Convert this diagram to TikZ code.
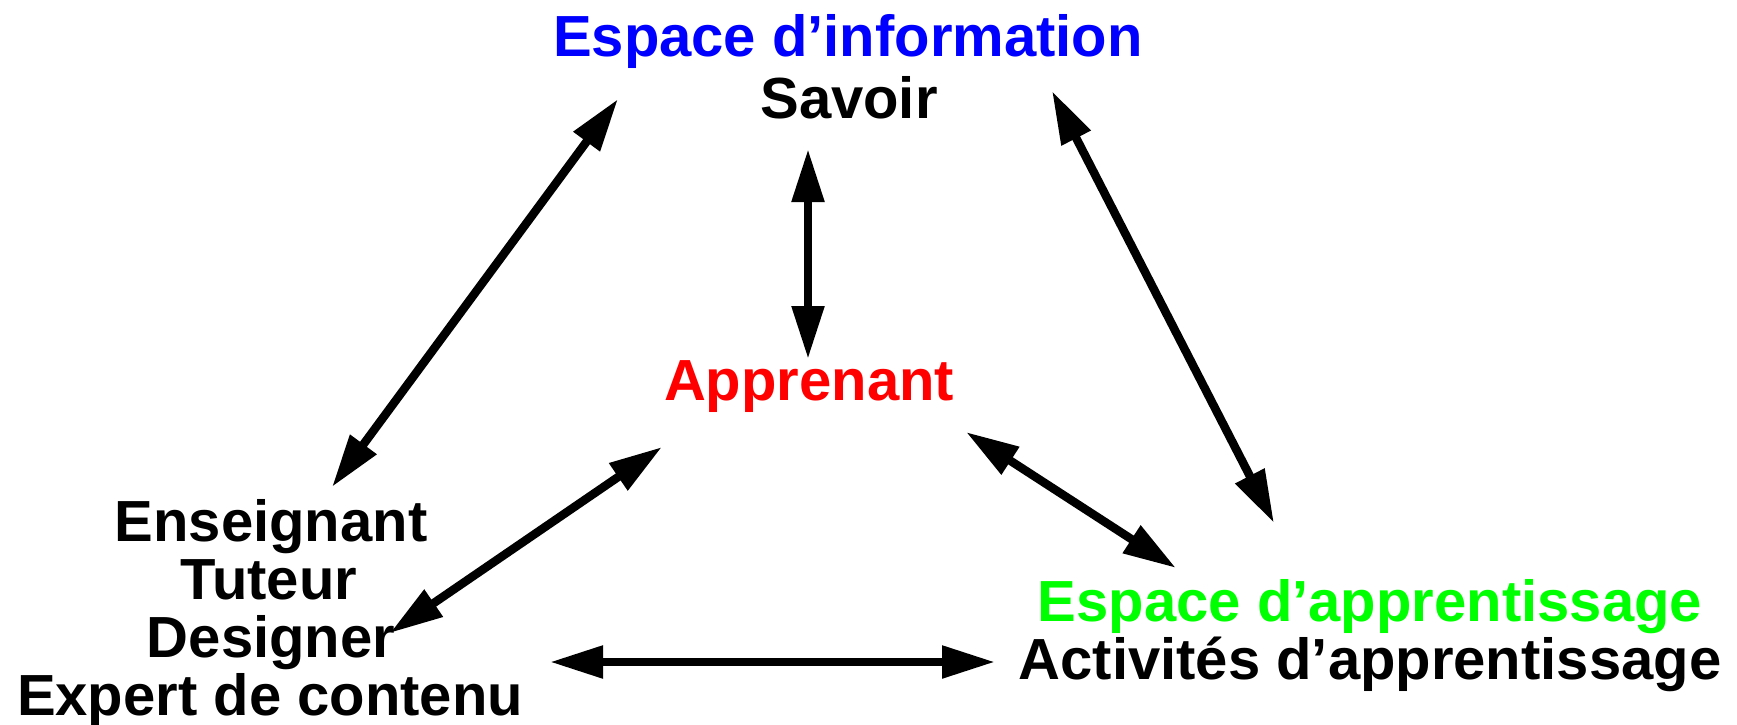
\documentclass[tikz,border=0pt]{standalone}
\usepackage{fontspec}
\setmainfont{Liberation Sans}
\usetikzlibrary{arrows.meta}
\definecolor{infoblue}{RGB}{0,0,255}
\definecolor{learnred}{RGB}{255,0,0}
\definecolor{spacegreen}{RGB}{0,255,0}
\tikzset{
  label text/.style={font=\fontsize{58}{58}\selectfont\bfseries, inner sep=0pt, anchor=base},
  link/.style={line width=8.5pt, {Triangle[length=53pt,width=31pt]}-{Triangle[length=53pt,width=31pt]}},
}
\begin{document}
\begin{tikzpicture}[x=1pt, y=-1pt]
  \useasboundingbox (0,0) rectangle (1737,725);
  % information space
  \node[label text, text=infoblue] (info) at (848,57) {Espace d’information};
  \node[label text] (savoir) at (849,118) {Savoir};
  % learner
  \node[label text, text=learnred] (learner) at (809,400) {Apprenant};
  % learning space
  \node[label text, text=spacegreen] (space) at (1370,621) {Espace d’apprentissage};
  \node[label text] (activities) at (1370,679) {Activités d’apprentissage};
  % people
  \node[label text] (teacher) at (271,541) {Enseignant};
  \node[label text] (tutor) at (269,599) {Tuteur};
  \node[label text] (designer) at (271,657) {Designer};
  \node[label text] (expert) at (270,715) {Expert de contenu};
  % arrow ends
  \coordinate (info-l) at (618,99);
  \coordinate (info-c) at (808,149);
  \coordinate (info-r) at (1052,91);
  \coordinate (learner-t) at (808,359);
  \coordinate (learner-l) at (662,447);
  \coordinate (learner-r) at (966,432);
  \coordinate (people-t) at (332,487);
  \coordinate (people-r) at (390,633);
  \coordinate (people-b) at (550,662);
  \coordinate (space-t) at (1274,523);
  \coordinate (space-l) at (1176,568);
  \coordinate (space-b) at (995,662);
  % connections
  \draw[link] (info-l) -- (people-t);
  \draw[link] (info-c) -- (learner-t);
  \draw[link] (info-r) -- (space-t);
  \draw[link] (learner-l) -- (people-r);
  \draw[link] (learner-r) -- (space-l);
  \draw[link] (people-b) -- (space-b);
\end{tikzpicture}
\end{document}
